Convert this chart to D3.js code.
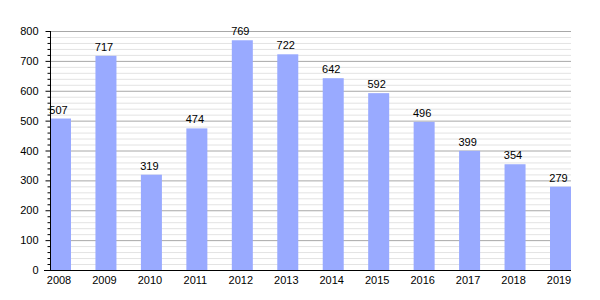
<!DOCTYPE html>
<html>
  <head>
    <meta charset="utf-8">
    <title>Bar chart 2008-2019</title>
    <script src="https://d3js.org/d3.v7.min.js"></script>
    <style>
      body { margin: 0; background: #fff; }
      text { font-family: "Liberation Sans", Arial, sans-serif; font-size: 11px; fill: #000; }
    </style>
  </head>
  <body>
    <svg id="chart" width="600" height="300"></svg>
    <script>
      // data
      const years = ["2008", "2009", "2010", "2011", "2012", "2013", "2014", "2015", "2016", "2017", "2018", "2019"];
      const values = [507, 717, 319, 474, 769, 722, 642, 592, 496, 399, 354, 279];
      const majorTicks = [0, 100, 200, 300, 400, 500, 600, 700, 800];

      const svg = d3.select("#chart");
      const plotLeft = 50, plotRight = 571, plotTop = 31, plotBottom = 270, barW = 21;

      const x = d3.scalePoint()
        .domain(years)
        .range([plotLeft + barW / 2, plotRight - barW / 2]);
      const y = d3.scaleLinear()
        .domain([0, 800])
        .range([plotBottom, plotTop]);

      // minor grid every 20
      const minor = d3.range(20, 801, 20).filter(d => d % 100 !== 0);
      svg.append("g").selectAll("line")
        .data(minor)
        .enter().append("line")
          .attr("x1", plotLeft).attr("x2", plotRight)
          .attr("y1", d => y(d) + 0.5).attr("y2", d => y(d) + 0.5)
          .attr("stroke", "#e3e3e3");
      // major grid every 100
      svg.append("g").selectAll("line")
        .data(majorTicks.slice(1))
        .enter().append("line")
          .attr("x1", plotLeft).attr("x2", plotRight)
          .attr("y1", d => y(d) + 0.5).attr("y2", d => y(d) + 0.5)
          .attr("stroke", "#a8a8a8");

      // bars
      svg.append("g").selectAll("rect")
        .data(values)
        .enter().append("rect")
          .attr("x", (d, i) => x(years[i]) - barW / 2)
          .attr("width", barW)
          .attr("y", d => y(d))
          .attr("height", d => plotBottom - y(d))
          .attr("fill", "#99aaff");

      // value labels
      svg.append("g").selectAll("text")
        .data(values)
        .enter().append("text")
          .attr("x", (d, i) => x(years[i]) - 2)
          .attr("y", d => y(d) - 5)
          .attr("text-anchor", "middle")
          .text(d => d);

      // y axis with minor ticks
      const yAxisMinor = d3.axisLeft(y).tickValues(minor).tickSize(3).tickFormat("");
      svg.append("g")
        .attr("transform", `translate(${plotLeft + 0.5},0)`)
        .call(yAxisMinor)
        .call(g => g.select(".domain").remove())
        .call(g => g.selectAll("line").attr("stroke", "#000"));
      const yAxis = d3.axisLeft(y).tickValues(majorTicks).tickSize(5).tickPadding(7);
      svg.append("g")
        .attr("transform", `translate(${plotLeft + 0.5},0)`)
        .call(yAxis)
        .call(g => g.select(".domain").attr("d", `M0,${plotTop}V${plotBottom}`).attr("stroke", "#000"))
        .call(g => g.selectAll("text").style("font-size", "11px").style("font-family", "Liberation Sans, Arial, sans-serif"));

      // x axis
      const xAxis = d3.axisBottom(x).tickSize(0).tickPadding(6);
      svg.append("g")
        .attr("transform", `translate(0,${plotBottom + 0.5})`)
        .call(xAxis)
        .call(g => g.select(".domain").attr("d", `M${plotLeft - 6},0H${plotRight}`).attr("stroke", "#000"))
        .call(g => g.selectAll("text").attr("dx", -2).style("font-size", "11px").style("font-family", "Liberation Sans, Arial, sans-serif"));
    </script>
  </body>
</html>
